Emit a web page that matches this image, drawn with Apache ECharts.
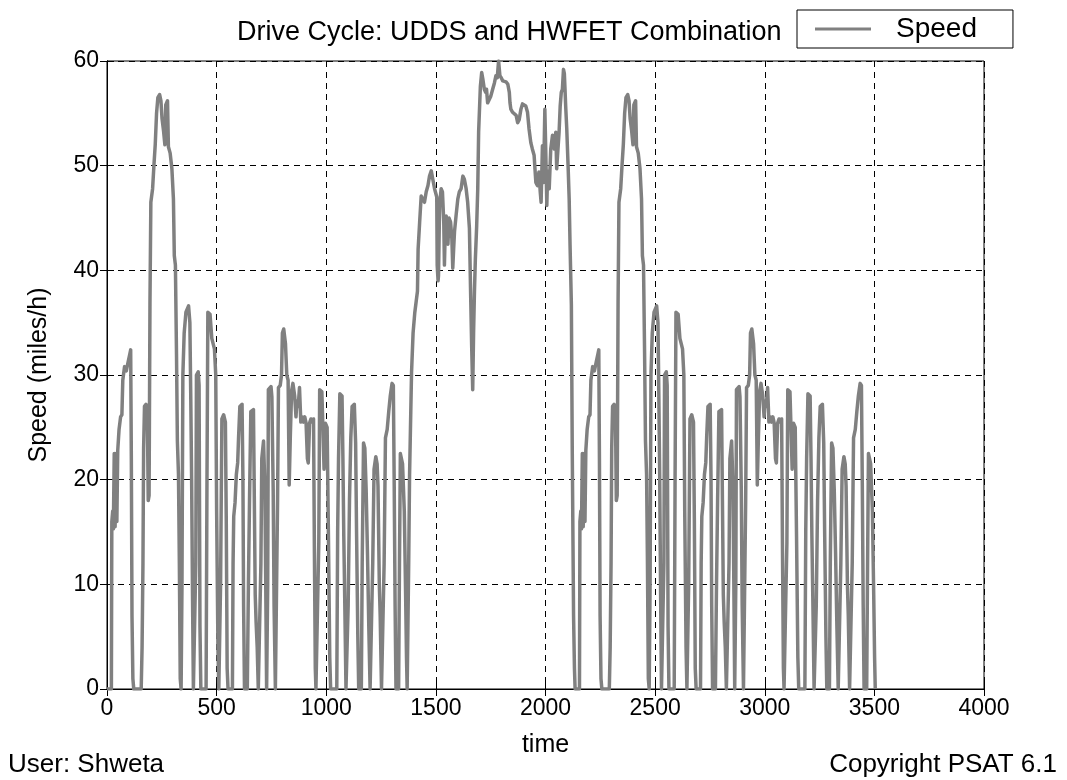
<!DOCTYPE html>
<html>
<head>
<meta charset="utf-8">
<script src="https://cdn.jsdelivr.net/npm/echarts@6/dist/echarts.min.js"></script>
<style>
html,body{margin:0;padding:0;background:#fff;}
#chart{width:1067px;height:780px;}
</style>
</head>
<body>
<div id="chart"></div>
<script>
// ---- data ----
const chartTitle = 'Drive Cycle: UDDS and HWFET Combination';
const seriesName = 'Speed';
const xTickLabels = ['0','500','1000','1500','2000','2500','3000','3500','4000'];
const yTickLabels = ['0','10','20','30','40','50','60'];

// UDDS cycle: time (s) and speed (miles/h)
const uddsTime = [0,20,22,26,29,33,37,41,45,49,55,62,68,72,80,88,96,104,108,111,114,118,122,156,160,164,167,171,178,184,188,192,196,200,208,214,220,226,232,240,246,251,258,264,268,276,280,288,296,303,307,312,317,321,326,330,334,338,342,346,352,360,372,378,382,386,390,394,402,405,408,416,420,424,428,452,456,460,470,478,490,496,500,506,510,515,518,521,524,532,540,544,548,552,572,575,578,584,590,596,600,606,616,620,623,627,640,645,650,656,668,672,676,680,685,690,698,702,706,714,720,724,728,733,736,748,752,758,762,768,774,778,782,790,796,800,806,814,820,826,831,836,842,848,856,862,866,872,878,884,890,896,902,908,914,918,924,930,936,942,946,950,953,962,966,970,980,986,990,996,1004,1010,1016,1020,1048,1052,1056,1062,1072,1076,1080,1084,1090,1096,1100,1106,1112,1118,1128,1134,1138,1144,1148,1160,1164,1170,1176,1182,1188,1194,1200,1208,1212,1218,1226,1232,1236,1242,1246,1252,1260,1264,1270,1278,1285,1292,1300,1306,1310,1314,1318,1330,1334,1338,1348,1356,1362,1366,1369];
const uddsSpeed = [0,0,16,17,15.3,22.5,15.5,22.5,16,22.8,24.8,26,26.2,29.5,30.8,30.4,31.2,32,32.4,22,7,1,0,0,4,12,23,27,27.2,26.5,18,18.5,37,46.5,47.8,50,52,55,56.5,56.8,56.2,54.5,53.3,52,55.8,56.2,51.8,51.2,49.7,46.8,41.4,40.5,32,23.7,20.5,12,1,0,10,30,34,36,36.6,35,28,20,9,0,0,12,30,30.3,29,6,0,0,20,36,35.8,33.5,32.5,30,17,4,0,0,10,18,25.8,26.2,25.5,16,2,0,0,12,16.5,17.8,20.5,21.6,24,27,27.2,20,8,0,0,10,18,26.5,26.7,18,9,6.4,4,0,0,12,22,23.7,19.3,10,0,10,28.6,28.9,27.9,19,8,0,0,18,28.8,29,30,34,34.4,33,30,29.5,19.5,24,28.5,29.2,28,26,27.5,27,28.8,25.5,26,25.5,26,25.4,22,21.6,25.4,25.8,25.5,25.8,13,2,0,0,14,28.6,28.4,24,21,25.4,25,14.6,3,0,0,15,22,28.2,28,22,14.6,9,0,0,8,18,24,27,27.2,23.5,15.4,5,0,0,12,23.5,23,19,13,6,0,0,12,21,22.2,21.5,19.4,10,7,0,0,12,24,24.8,26.5,28,29.2,29,19.4,8,0,0,12,22.5,21.5,17,9,3,0];

// HWFET cycle: time (s, on the combined time axis) and speed (miles/h)
const hwfetTime = [1372,1376,1380,1386,1389,1396,1404,1410,1416,1419,1426,1433,1440,1448,1456,1464,1471,1479,1486,1494,1500,1504,1506,1510,1512,1517,1524,1530,1536,1539,1543,1547,1551,1555,1560,1567,1573,1577,1581,1585,1592,1600,1607,1615,1623,1630,1638,1645,1653,1658,1663,1668,1672,1676,1680,1686,1691,1695,1703,1709,1714,1721,1727,1731,1736,1744,1750,1759,1767,1774,1780,1786,1792,1798,1805,1812,1820,1828,1835,1838,1842,1850,1858,1866,1873,1880,1888,1895,1903,1910,1918,1925,1933,1940,1948,1952,1956,1963,1970,1976,1980,1986,1991,1997,2001,2006,2010,2017,2024,2032,2040,2047,2051,2055,2062,2067,2072,2077,2082,2086,2089,2092,2097,2103,2108,2112,2118,2122,2128,2132,2135];
const hwfetSpeed = [0,12,20.4,27,30.2,34,36,37,38,42,44.6,47.1,47,46.5,47.5,48.1,49,49.5,48.7,47.8,47.8,47,40.5,39,39.5,46.2,47.8,47.5,44.6,40.5,44,45.2,43,42.5,45,44.6,43,40.2,42,43.7,45.2,46.8,47.5,47.8,49,48.7,47.8,46.5,44,38.3,33,28.6,34,38,41,44.2,47.8,53.2,57.6,58.9,58.3,57.3,57,57.3,56,56,56.6,57.3,57.9,58.6,58.4,60,58.6,58.4,58.1,58.2,58,57.8,57,56,55.4,55.1,55.2,54.8,54.1,54.4,55.4,55.9,56,55.7,55.1,53.5,52.2,51.6,51,49.7,48.4,48.1,49.4,47.5,46.5,51.9,48.4,55.4,51.6,46.2,49.5,47.8,51.6,52.9,51.6,53.2,49.7,51,53.2,55.7,57,57.3,59.2,58.8,57.3,55.7,53.5,50,46.8,42.4,36.7,22.9,7,2,0];

// the UDDS cycle is driven a second time after the HWFET
const secondUddsStart = 2135;

// ---- build series data ----
const speedData = [];
uddsTime.forEach((t, i) => speedData.push([t, uddsSpeed[i]]));
hwfetTime.forEach((t, i) => speedData.push([t, hwfetSpeed[i]]));
uddsTime.forEach((t, i) => speedData.push([secondUddsStart + t, uddsSpeed[i]]));

const FONT = '"Liberation Sans", Arial, sans-serif';
const chart = echarts.init(document.getElementById('chart'), null, {renderer: 'canvas'});

const xMin = Number(xTickLabels[0]), xMax = Number(xTickLabels[xTickLabels.length - 1]);
const xStep = Number(xTickLabels[1]) - xMin;
const yMin = Number(yTickLabels[0]), yMax = Number(yTickLabels[yTickLabels.length - 1]);
const yStep = Number(yTickLabels[1]) - yMin;

const gridSplit = {show: true, lineStyle: {color: '#000', width: 1, type: [6, 5]}};

chart.setOption({
  animation: false,
  backgroundColor: '#fff',
  textStyle: {fontFamily: FONT},
  title: {
    text: chartTitle,
    left: 232, top: 14,
    textStyle: {fontFamily: FONT, fontSize: 27, fontWeight: 'normal', color: '#000'}
  },
  legend: {
    data: [{name: seriesName, icon: 'rect'}],
    left: 797, top: 10,
    orient: 'horizontal',
    itemWidth: 56, itemHeight: 3, itemGap: 10,
    padding: [4, 36, 4, 18],
    borderColor: '#000', borderWidth: 1, backgroundColor: '#fff',
    textStyle: {fontFamily: FONT, fontSize: 28, color: '#000', padding: [0, 0, 0, 20], lineHeight: 30}
  },
  grid: {
    left: 107, top: 61, width: 877, height: 628,
    show: true, borderColor: '#000', borderWidth: 1, backgroundColor: '#fff',
    containLabel: false
  },
  xAxis: [{
    type: 'value', min: xMin, max: xMax, interval: xStep,
    name: 'time', nameLocation: 'middle', nameGap: 44,
    nameTextStyle: {fontFamily: FONT, fontSize: 25, color: '#000'},
    axisLine: {show: true, lineStyle: {color: '#000', width: 1}},
    axisTick: {show: true, inside: true, length: 7, lineStyle: {color: '#000'}},
    axisLabel: {fontFamily: FONT, fontSize: 23, color: '#000', margin: 8,
      formatter: (v) => xTickLabels[Math.round((v - xMin) / xStep)] ?? ''},
    splitLine: gridSplit
  }, {
    type: 'value', min: xMin, max: xMax, interval: xStep, position: 'top',
    axisLine: {show: true, lineStyle: {color: '#000'}},
    axisTick: {show: true, inside: true, length: 7, lineStyle: {color: '#000'}},
    axisLabel: {show: false}, splitLine: {show: false}
  }],
  yAxis: [{
    type: 'value', min: yMin, max: yMax, interval: yStep,
    name: 'Speed (miles/h)', nameLocation: 'middle', nameGap: 55, nameRotate: 90,
    nameTextStyle: {fontFamily: FONT, fontSize: 25, color: '#000'},
    axisLine: {show: true, lineStyle: {color: '#000', width: 1}},
    axisTick: {show: true, inside: true, length: 7, lineStyle: {color: '#000'}},
    axisLabel: {fontFamily: FONT, fontSize: 23, color: '#000', margin: 8,
      formatter: (v) => yTickLabels[Math.round((v - yMin) / yStep)] ?? ''},
    splitLine: gridSplit
  }, {
    type: 'value', min: yMin, max: yMax, interval: yStep, position: 'right',
    axisLine: {show: true, lineStyle: {color: '#000'}},
    axisTick: {show: true, inside: true, length: 7, lineStyle: {color: '#000'}},
    axisLabel: {show: false}, splitLine: {show: false}
  }],
  graphic: [
    {type: 'text', left: 8, top: 752,
      style: {text: 'User: Shweta', fontFamily: FONT, fontSize: 26, fill: '#000'}},
    {type: 'text', right: 10, top: 752,
      style: {text: 'Copyright PSAT 6.1', fontFamily: FONT, fontSize: 26, fill: '#000'}}
  ],
  series: [{
    name: seriesName,
    type: 'line',
    xAxisIndex: 0, yAxisIndex: 0,
    data: speedData,
    showSymbol: false,
    symbol: 'none',
    lineStyle: {color: '#808080', width: 3.5, join: 'round'},
    itemStyle: {color: '#808080'},
    clip: true
  }]
});
</script>
</body>
</html>
